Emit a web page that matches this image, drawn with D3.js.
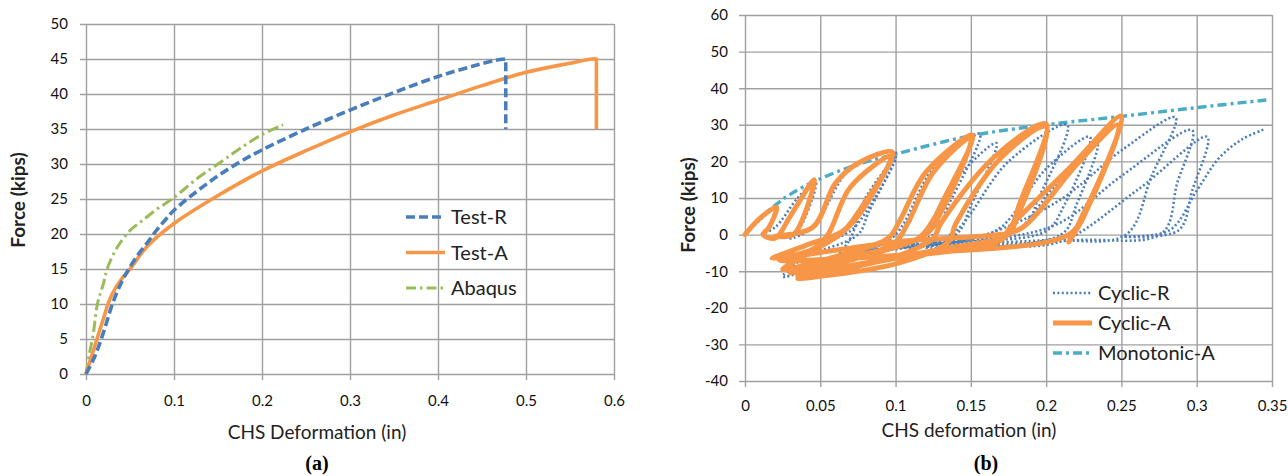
<!DOCTYPE html>
<html>
<head>
<meta charset="utf-8">
<script src="https://cdn.jsdelivr.net/npm/d3@7"></script>
<style>
  body { margin: 0; background: #fff; }
  svg { display: block; font-family: Lato, "Open Sans", sans-serif; }
</style>
</head>
<body>
<svg width="1288" height="476"></svg>
<script>
// ---- data (a): monotonic tests, [deformation in, force kips]
var testR = [[0,0],[0.01,2.5],[0.02,6],[0.03,10],[0.04,13],[0.05,15.3],[0.06,17.2],[0.07,18.8],[0.08,20.5],
  [0.09,22],[0.1,23.4],[0.125,26],[0.15,28.3],[0.175,30.3],[0.2,32],[0.25,35],[0.3,37.7],[0.35,40.2],
  [0.4,42.5],[0.44,44],[0.465,44.8],[0.477,45],[0.477,35]];
var testA = [[0,0],[0.01,4],[0.02,8],[0.025,10],[0.03,11.5],[0.04,13.5],[0.05,15],[0.07,18.3],[0.1,21.5],
  [0.15,25.5],[0.2,29],[0.25,31.9],[0.3,34.6],[0.35,37],[0.4,39.1],[0.45,41.2],[0.5,43.1],[0.55,44.4],
  [0.575,45],[0.58,45],[0.58,35]];
var abaqus = [[0,0],[0.004,3],[0.008,5.5],[0.013,10],[0.02,13],[0.024,15],[0.035,18],[0.05,20.5],[0.065,22],
  [0.08,23.5],[0.1,25.2],[0.125,27.8],[0.15,30],[0.175,32.2],[0.2,34.2],[0.224,35.6]];

// ---- data (b): cyclic tests
var cyclicR = [[0,0],[0.01,4],[0.02,7.5],[0.014,1],[0.01,0],
  [0.02,2],[0.035,10],[0.047,14.5],[0.038,3],[0.03,-1],
  [0.045,2],[0.07,18],[0.1,22.5],[0.08,6],[0.07,1],[0.05,-3],[0.025,-11.5],
  [0.06,-6],[0.07,-1],[0.08,10],[0.1,21],[0.082,6],[0.075,0],[0.04,-6],[0.03,-9],
  [0.08,-4.5],[0.1,0],[0.125,18],[0.156,27.5],[0.135,8],[0.125,0],[0.07,-5],[0.05,-7],
  [0.1,-3.5],[0.12,0],[0.14,15],[0.167,25],[0.15,8],[0.14,0],[0.1,-4],[0.068,-4.8],
  [0.12,-2.5],[0.14,1],[0.175,20],[0.214,30],[0.195,10],[0.185,2],[0.15,-1.5],[0.1,-3],
  [0.15,-1],[0.17,2],[0.2,18],[0.229,26.7],[0.212,8],[0.2,1],[0.15,-2],[0.068,-4.8],
  [0.15,-1.5],[0.18,1],[0.205,13],[0.234,25],[0.22,8],[0.21,0],[0.12,-3.5],
  [0.16,0],[0.209,9.4],[0.25,23],[0.286,32],[0.27,16],[0.253,0],[0.2,-1.5],[0.12,-3],
  [0.17,-1],[0.209,3.2],[0.25,16],[0.297,28.5],[0.287,14],[0.277,0.4],[0.22,-1.5],[0.16,-3],
  [0.209,-2],[0.26,12],[0.307,26.7],[0.297,12],[0.288,1.2],[0.25,-0.5],
  [0.282,1.2],[0.3,12],[0.315,21],[0.33,26],[0.345,28.8]];
var cyclicA = [[0,0],[0.01,4.5],[0.021,7.5],[0.016,2],[0.012,0],[0.02,-1],
  [0.03,5],[0.046,15],[0.038,4],[0.032,0],[0.02,-0.5],
  [0.045,2],[0.06,14],[0.075,19.5],[0.098,22.5],[0.075,6],[0.065,1],[0.04,-3],[0.018,-6.5],
  [0.045,-4],[0.055,0],[0.07,13],[0.097,21.5],[0.075,5],[0.063,0],[0.045,-4.5],[0.025,-9.5],
  [0.06,-6],[0.095,-1],[0.103,4],[0.12,17],[0.151,27.2],[0.13,8],[0.125,4],[0.115,-1],[0.06,-7],[0.03,-10.5],
  [0.07,-7],[0.1,-2],[0.108,3],[0.125,17],[0.15,26.5],[0.13,6],[0.12,0],[0.06,-8],[0.035,-11.5],
  [0.1,-6],[0.125,-1],[0.13,3],[0.165,21],[0.2,30.2],[0.182,8],[0.178,3],[0.17,-1.5],[0.1,-6.5],[0.035,-12],
  [0.1,-8],[0.135,-2],[0.14,3],[0.17,21],[0.2,29.5],[0.18,4],[0.175,0],[0.13,-4],[0.035,-11],
  [0.12,-5],[0.17,-1],[0.178,3],[0.215,18],[0.25,32.4],[0.225,6],[0.215,0],[0.12,-5],[0.023,-7],
  [0.1,-2],[0.18,1],[0.19,4],[0.22,19],[0.248,30],[0.225,5],[0.215,-2]];
var monotonicA = [[0,0],[0.01,4.5],[0.02,8],[0.03,11],[0.046,14.5],[0.07,18.5],[0.1,22],[0.15,27],
  [0.2,30],[0.25,32.3],[0.3,34.7],[0.347,36.8]];

var ticksXa = [0,0.1,0.2,0.3,0.4,0.5,0.6];
var ticksYa = [0,5,10,15,20,25,30,35,40,45,50];
var ticksXb = [0,0.05,0.1,0.15,0.2,0.25,0.3,0.35];
var ticksYb = [-40,-30,-20,-10,0,10,20,30,40,50,60];

var svg = d3.select("svg");
var gridColor = "#a0a0a0";

// draws axes + grid of a panel, returns scales
function panel(xr, yr, xd, yd, tx, ty, padX, padY) {
  var x = d3.scaleLinear().domain(xd).range(xr);
  var y = d3.scaleLinear().domain(yd).range(yr);
  var h = yr[0] - yr[1], w = xr[1] - xr[0];
  var fmt = function (d) { return String(d); }; // plain hyphen for negatives

  var gx = svg.append("g").attr("transform", "translate(0," + yr[0] + ")")
    .call(d3.axisBottom(x).tickValues(tx).tickFormat(fmt).tickSizeInner(-h).tickSizeOuter(0).tickPadding(padX));
  gx.selectAll("line").attr("y1", 6);
  var gy = svg.append("g").attr("transform", "translate(" + xr[0] + ",0)")
    .call(d3.axisLeft(y).tickValues(ty).tickFormat(fmt).tickSizeInner(-w).tickSizeOuter(0).tickPadding(padY));
  gy.selectAll("line").attr("x1", -6);
  [gx, gy].forEach(function (g) {
    g.select(".domain").remove();
    g.selectAll("line").attr("stroke", gridColor).attr("stroke-width", 1.4);
    g.selectAll("text").attr("fill", "#111").style("font-size", "15px").style("font-family", "Lato, sans-serif");
  });
  return {x: x, y: y};
}

// curved line; with drop=true the last point is joined by a straight segment
function drawLine(s, data, color, width, dash, cap, drop) {
  var line = d3.line().x(function (d) { return s.x(d[0]); }).y(function (d) { return s.y(d[1]); })
    .curve(d3.curveCatmullRom.alpha(0.5));
  var pts = drop ? data.slice(0, -1) : data;
  var dstr = line(pts);
  if (drop) {
    var last = data[data.length - 1];
    dstr += "L" + s.x(last[0]) + "," + s.y(last[1]);
  }
  svg.append("path").attr("fill", "none").attr("stroke", color)
    .attr("stroke-width", width).attr("stroke-dasharray", dash)
    .attr("stroke-linecap", cap || "butt").attr("stroke-linejoin", "round").attr("d", dstr);
}

function legend(items, x0, y0, step) {
  items.forEach(function (it, i) {
    var y = y0 + i * step;
    svg.append("line").attr("x1", x0).attr("x2", x0 + 39).attr("y1", y).attr("y2", y)
      .attr("stroke", it.color).attr("stroke-width", it.width).attr("stroke-dasharray", it.dash)
      .attr("stroke-linecap", it.cap || "butt");
    svg.append("text").attr("x", x0 + 45).attr("y", y).attr("dy", "0.35em")
      .style("font-size", "20px").attr("fill", "#222").text(it.name);
  });
}

// ---- panel (a)
var a = panel([86, 614], [374, 24], [0, 0.6], [0, 50], ticksXa, ticksYa, 21, 18);
drawLine(a, abaqus, "#9bbb59", 3, "11,4,2.5,4");
drawLine(a, testA, "#f79646", 3.6, null, null, true);
drawLine(a, testR, "#4a7ebb", 3.6, "9,4", null, true);
legend([
  {name: "Test-R", color: "#4a7ebb", width: 3.6, dash: "9,4"},
  {name: "Test-A", color: "#f79646", width: 3.6, dash: null},
  {name: "Abaqus", color: "#9bbb59", width: 3, dash: "10,4,2.5,4"}
], 406, 217, 35.5);

// ---- panel (b)
var b = panel([745, 1272], [381, 15], [0, 0.35], [-40, 60], ticksXb, ticksYb, 19, 17);
drawLine(b, monotonicA, "#4bacc6", 3.4, "9,4,3,4");
drawLine(b, cyclicR, "#4a7ebb", 2.6, "2,2.4");
drawLine(b, cyclicA, "#f79646", 5, null, "round");
legend([
  {name: "Cyclic-R", color: "#4a7ebb", width: 2.6, dash: "2,2.4"},
  {name: "Cyclic-A", color: "#f79646", width: 5, dash: null},
  {name: "Monotonic-A", color: "#4bacc6", width: 3.4, dash: "9,4,3,4"}
], 1053, 293, 30);

// ---- titles
svg.append("text").attr("x", 317).attr("y", 432).attr("dy", "0.35em").attr("text-anchor", "middle")
  .style("font-size", "19px").attr("fill", "#222").text("CHS Deformation (in)");
svg.append("text").attr("x", 969).attr("y", 430).attr("dy", "0.35em").attr("text-anchor", "middle")
  .style("font-size", "19px").attr("fill", "#222").text("CHS deformation (in)");
svg.append("text").attr("transform", "translate(18,200) rotate(-90)").attr("dy", "0.35em")
  .attr("text-anchor", "middle").style("font-size", "19px").style("font-weight", "bold")
  .attr("fill", "#222").text("Force (kips)");
svg.append("text").attr("transform", "translate(688,205) rotate(-90)").attr("dy", "0.35em")
  .attr("text-anchor", "middle").style("font-size", "19px").style("font-weight", "bold")
  .attr("fill", "#222").text("Force (kips)");
svg.append("text").attr("x", 317).attr("y", 470).attr("text-anchor", "middle")
  .style("font-family", "'Liberation Serif', serif").style("font-size", "20px").style("font-weight", "bold")
  .text("(a)");
svg.append("text").attr("x", 986).attr("y", 470).attr("text-anchor", "middle")
  .style("font-family", "'Liberation Serif', serif").style("font-size", "20px").style("font-weight", "bold")
  .text("(b)");
</script>
</body>
</html>
